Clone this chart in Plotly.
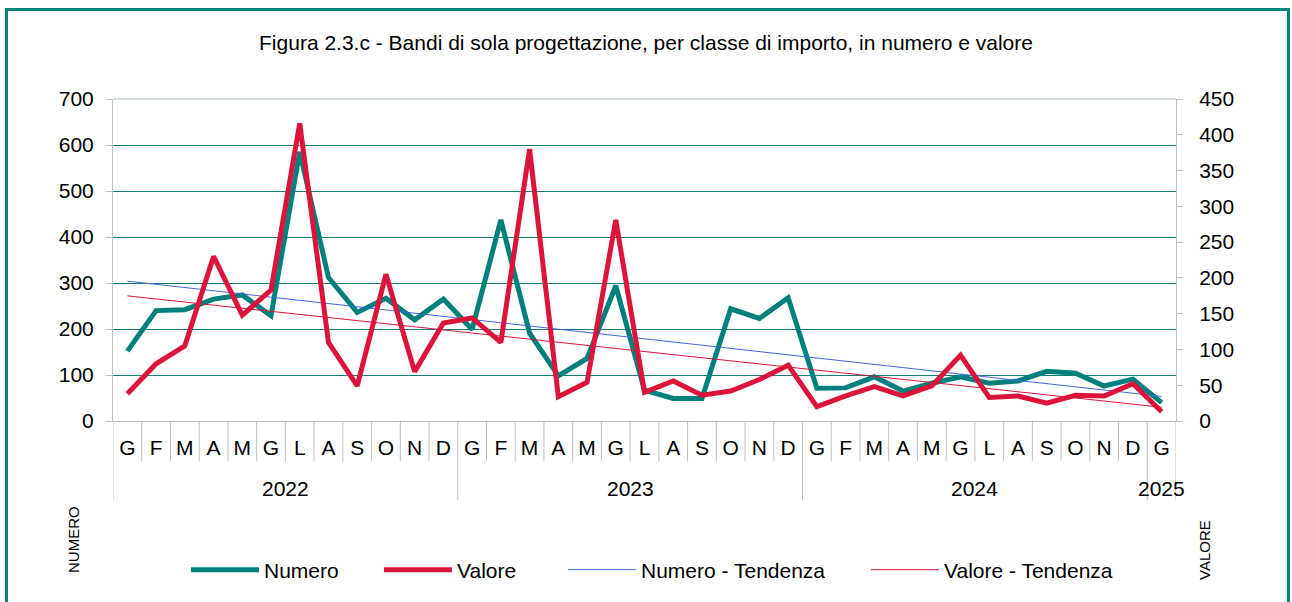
import numpy as np
import plotly.graph_objects as go

months = ["G","F","M","A","M","G","L","A","S","O","N","D",
          "G","F","M","A","M","G","L","A","S","O","N","D",
          "G","F","M","A","M","G","L","A","S","O","N","D",
          "G"]
years = ["2022", "2023", "2024", "2025"]
year_lengths = [12, 12, 12, 1]

numero = [152, 240, 242, 265, 274, 229, 585, 312, 236, 267, 220, 265,
          199, 437, 191, 98, 136, 294, 67, 49, 49, 244, 223, 268,
          71, 72, 96, 65, 82, 96, 82, 87, 108, 104, 76, 91, 40]
valore = [38, 80, 105, 230, 148, 183, 416, 110, 49, 205, 69, 137,
          144, 110, 380, 34, 54, 281, 40, 56, 36, 42, 58, 78,
          20, 35, 48, 35, 49, 92, 33, 35, 25, 36, 35, 52, 13]

series_names = ["Numero", "Valore", "Numero - Tendenza", "Valore - Tendenza"]

title = "Figura 2.3.c - Bandi di sola progettazione, per classe di importo, in numero e valore"

TEAL = "#00807A"
RED = "#DC143C"
BLUE = "#4169E1"
GRAY = "#BFBFBF"
GRID = "#138079"
FONT = "Liberation Sans, Arial, sans-serif"

n = len(months)
x = np.arange(n)
cn = np.polyfit(x, numero, 1)
cv = np.polyfit(x, valore, 1)
trend_n = np.polyval(cn, x)
trend_v = np.polyval(cv, x)

W, H = 1292, 602
PL, PR, PT, PB = 113, 1176, 99, 421  # plot area in screen px
L, R, T, B = PL, W - PR, PT, H - PB
pw, ph = PR - PL, PB - PT

def py(sy):
    return (PB - sy) / ph

def pxx(sx):
    return (sx - PL) / pw

fig = go.Figure()
fig.add_trace(go.Scatter(x=x, y=numero, name=series_names[0], mode="lines", showlegend=True,
                         line=dict(color=TEAL, width=5), yaxis="y", legend="legend"))
fig.add_trace(go.Scatter(x=x, y=trend_n, name=series_names[2], mode="lines", showlegend=True,
                         line=dict(color=BLUE, width=1), yaxis="y", legend="legend3"))
fig.add_trace(go.Scatter(x=x, y=valore, name=series_names[1], mode="lines", showlegend=True,
                         line=dict(color=RED, width=5), yaxis="y2", legend="legend2"))
fig.add_trace(go.Scatter(x=x, y=trend_v, name=series_names[3], mode="lines", showlegend=True,
                         line=dict(color=RED, width=1), yaxis="y2", legend="legend4"))

shapes = []
boundaries = np.cumsum([0] + year_lengths)
for k in range(n + 1):
    long = k in boundaries
    shapes.append(dict(type="line", xref="x", yref="paper",
                       x0=k - 0.5, x1=k - 0.5, y0=0,
                       y1=py(500) if long else py(461),
                       line=dict(color=GRAY, width=1)))
shapes.append(dict(type="line", xref="paper", yref="paper", x0=0, x1=1, y0=1, y1=1,
                   line=dict(color="#A9BCC0", width=1)))
shapes.append(dict(type="rect", xref="paper", yref="paper",
                   x0=pxx(6.5), x1=pxx(1288.5), y0=py(620), y1=py(9.5),
                   line=dict(color="#00837B", width=3), layer="above"))

annotations = []
start = 0
for yr, ln in zip(years, year_lengths):
    annotations.append(dict(x=start + (ln - 1) / 2, y=py(488), xref="x", yref="paper",
                            text=yr, showarrow=False, xanchor="center", yanchor="middle",
                            font=dict(size=21, color="black", family=FONT)))
    start += ln
annotations.append(dict(x=pxx(73), y=py(540), xref="paper", yref="paper", text="NUMERO",
                        textangle=-90, showarrow=False, xanchor="center", yanchor="middle",
                        font=dict(size=15, color="black", family=FONT)))
annotations.append(dict(x=pxx(1204), y=py(550), xref="paper", yref="paper", text="VALORE",
                        textangle=-90, showarrow=False, xanchor="center", yanchor="middle",
                        font=dict(size=15, color="black", family=FONT)))

LEG_SHIFT = 4
def legend_at(sx):
    return dict(orientation="h", x=pxx(sx - LEG_SHIFT), xanchor="left", y=py(570), yanchor="middle",
                font=dict(size=21, family=FONT, color="black"), itemwidth=68,
                bgcolor="rgba(0,0,0,0)")

fig.update_layout(
    width=W, height=H,
    margin=dict(l=L, r=R, t=T, b=B),
    paper_bgcolor="white", plot_bgcolor="white",
    font=dict(family=FONT, color="black"),
    showlegend=True,
    title=dict(text=title, x=0.5, xanchor="center", y=1 - 43 / H, yanchor="middle",
               yref="container", font=dict(size=21, family=FONT, color="black")),
    xaxis=dict(range=[-0.5, n - 0.5], tickmode="array", tickvals=list(x), ticktext=months,
               showgrid=False, zeroline=False, showline=True, linecolor=GRAY, linewidth=1,
               ticks="", tickfont=dict(size=21, family=FONT, color="black"),
               ticklabelstandoff=8),
    yaxis=dict(range=[0, 700], dtick=100, showgrid=True, gridcolor=GRID, gridwidth=1,
               zeroline=False, showline=True, linecolor=GRAY, linewidth=1,
               ticks="outside", ticklen=6, tickcolor=GRAY, ticklabelstandoff=8,
               tickfont=dict(size=21, family=FONT, color="black")),
    yaxis2=dict(range=[0, 450], dtick=50, overlaying="y", side="right", showgrid=False,
                zeroline=False, showline=True, linecolor=GRAY, linewidth=1,
                ticks="outside", ticklen=6, tickcolor=GRAY, ticklabelstandoff=12,
                tickfont=dict(size=21, family=FONT, color="black")),
    legend=legend_at(190),
    legend2=legend_at(383),
    legend3=legend_at(567),
    legend4=legend_at(870),
    shapes=shapes, annotations=annotations,
)

fig.write_html("out.html", config={"displayModeBar": False},
               post_script="document.body.style.margin='0px';document.body.style.overflow='hidden';")
